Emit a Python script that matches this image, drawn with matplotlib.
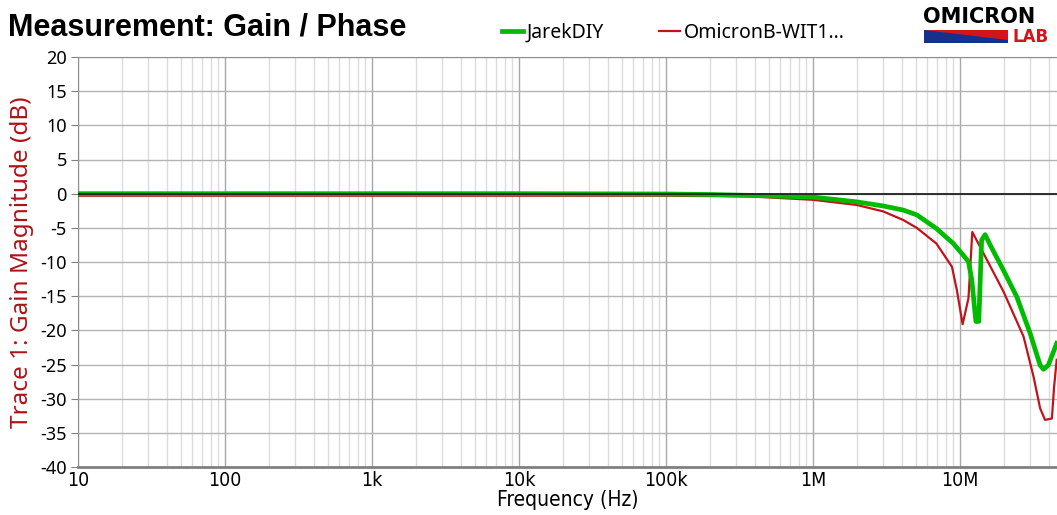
import matplotlib
matplotlib.use("Agg")
import matplotlib.pyplot as plt
from matplotlib.patches import Polygon
from matplotlib.ticker import FixedLocator, NullFormatter

# Datos (frecuencia en Hz, ganancia en dB)
frec_jarek = [10, 100, 1e3, 1e4, 1e5, 2e5, 3.72e5, 1e6, 1.98e6, 3.0e6, 4.1e6, 5.07e6,
              6.9e6, 9.0e6, 10.5e6, 11.4e6, 12.0e6, 12.8e6, 13.4e6, 14.0e6, 14.8e6,
              16.0e6, 19.7e6, 24.3e6, 29.9e6, 35.0e6, 36.9e6, 39.8e6, 45.4e6]
gan_jarek = [0.0, 0.0, 0.0, 0.0, -0.05, -0.12, -0.25, -0.5, -1.2, -1.8, -2.4, -3.1,
             -5.1, -7.3, -9.0, -9.95, -12.6, -18.7, -18.7, -6.8, -6.0,
             -7.5, -11.2, -15.1, -20.4, -25.1, -25.7, -25.1, -21.9]

frec_omicron = [10, 100, 1e3, 1e4, 1e5, 3.72e5, 1e6, 1.98e6, 3.0e6, 4.1e6, 5.07e6, 6.9e6,
                8.8e6, 9.5e6, 10.4e6, 11.4e6, 12.1e6, 14.4e6, 19.7e6, 27.0e6, 31.6e6,
                35.0e6, 37.8e6, 42.1e6, 43.6e6, 45.4e6]
gan_omicron = [-0.3, -0.3, -0.3, -0.3, -0.3, -0.4, -0.9, -1.65, -2.6, -3.85, -5.0, -7.3,
               -10.7, -14.1, -19.1, -15.3, -5.6, -8.7, -14.3, -20.9, -26.8,
               -31.4, -33.1, -32.9, -28.2, -24.3]

x_ticks = [10, 100, 1e3, 1e4, 1e5, 1e6, 1e7]
x_tick_labels = ["10", "100", "1k", "10k", "100k", "1M", "10M"]
y_ticks = list(range(-40, 25, 5))

W, H = 1057, 515
fig = plt.figure(figsize=(W / 100, H / 100), dpi=100)
ax = fig.add_axes([78 / W, 1 - 467 / H, 1 - 78 / W, (467 - 57) / H])

# Rejilla: decadas mas oscuras, subdivisiones claras
ax.set_xscale("log")
ax.set_xlim(10, 10 ** 7.659)
ax.set_ylim(-40, 20)
ax.xaxis.set_minor_locator(FixedLocator([m * 10 ** d for d in range(1, 8) for m in range(2, 10)]))
ax.xaxis.set_minor_formatter(NullFormatter())
ax.grid(True, which="major", axis="x", color="#a8a8a8", linewidth=1.0)
ax.grid(True, which="minor", axis="x", color="#dcdcdc", linewidth=1.0)
ax.grid(True, which="major", axis="y", color="#b4b4b4", linewidth=1.0)
ax.set_axisbelow(True)

ax.plot(frec_omicron, gan_omicron, color="#c0141c", linewidth=1.6, label="OmicronB-WIT1...", zorder=3)
ax.plot(frec_jarek, gan_jarek, color="#00bb00", linewidth=3.4, label="JarekDIY", zorder=4)
ax.axhline(0, color="#202020", linewidth=1.3, zorder=5)

ax.set_xticks(x_ticks)
ax.set_xticklabels(x_tick_labels, fontsize=14, fontfamily="DejaVu Sans", fontstretch="condensed")
ax.set_yticks(y_ticks)
ax.set_yticklabels([str(v) for v in y_ticks], fontfamily="Noto Sans", fontsize=13)
ax.tick_params(axis="x", which="both", length=0, pad=3)
ax.tick_params(axis="y", length=5, color="#808080", pad=3)

for lado in ["top", "left"]:
    ax.spines[lado].set_color("#909090")
ax.spines["bottom"].set_color("#808080")
ax.spines["bottom"].set_linewidth(2)
ax.spines["right"].set_visible(False)

ax.set_xlabel("Frequency (Hz)", fontsize=15, fontfamily="DejaVu Sans", fontstretch="condensed", labelpad=0)
ax.set_ylabel("Trace 1: Gain Magnitude (dB)", fontfamily="Noto Sans", fontsize=17.5, color="#b01218")
ax.yaxis.set_label_coords(-(78 - 34) / (W - 78), 0.5)

fig.text(8 / W, 1 - 28 / H, "Measurement: Gain / Phase", fontfamily="Liberation Sans",
         fontweight="bold", fontsize=22, va="center", ha="left")

handles, labels = ax.get_legend_handles_labels()
fig.legend(handles[::-1], labels[::-1], loc="center left", bbox_to_anchor=(494 / W, 1 - 33 / H),
           ncol=2, frameon=False, handlelength=1.1, handletextpad=0.2, columnspacing=2.8,
           prop={"family": "Noto Sans", "size": 14}, borderaxespad=0)

# Logo OMICRON LAB
fig.text(923 / W, 1 - 17 / H, "OMICRON", fontfamily="DejaVu Sans", fontweight="bold",
         fontsize=15, va="center", ha="left")
px = lambda x, y: (x / W, 1 - y / H)
fig.patches.append(Polygon([px(924, 30), px(1008, 30), px(1008, 43), px(924, 43)], closed=True,
                           facecolor="#16318c", edgecolor="none", transform=fig.transFigure))
fig.patches.append(Polygon([px(924, 30), px(1008, 30), px(1008, 40)], closed=True,
                           facecolor="#d4141c", edgecolor="none", transform=fig.transFigure))
fig.text(1013 / W, 1 - 37 / H, "LAB", fontfamily="DejaVu Sans", fontweight="bold",
         fontsize=12, color="#d4141c", va="center", ha="left")

fig.savefig("out.png", dpi=100)
